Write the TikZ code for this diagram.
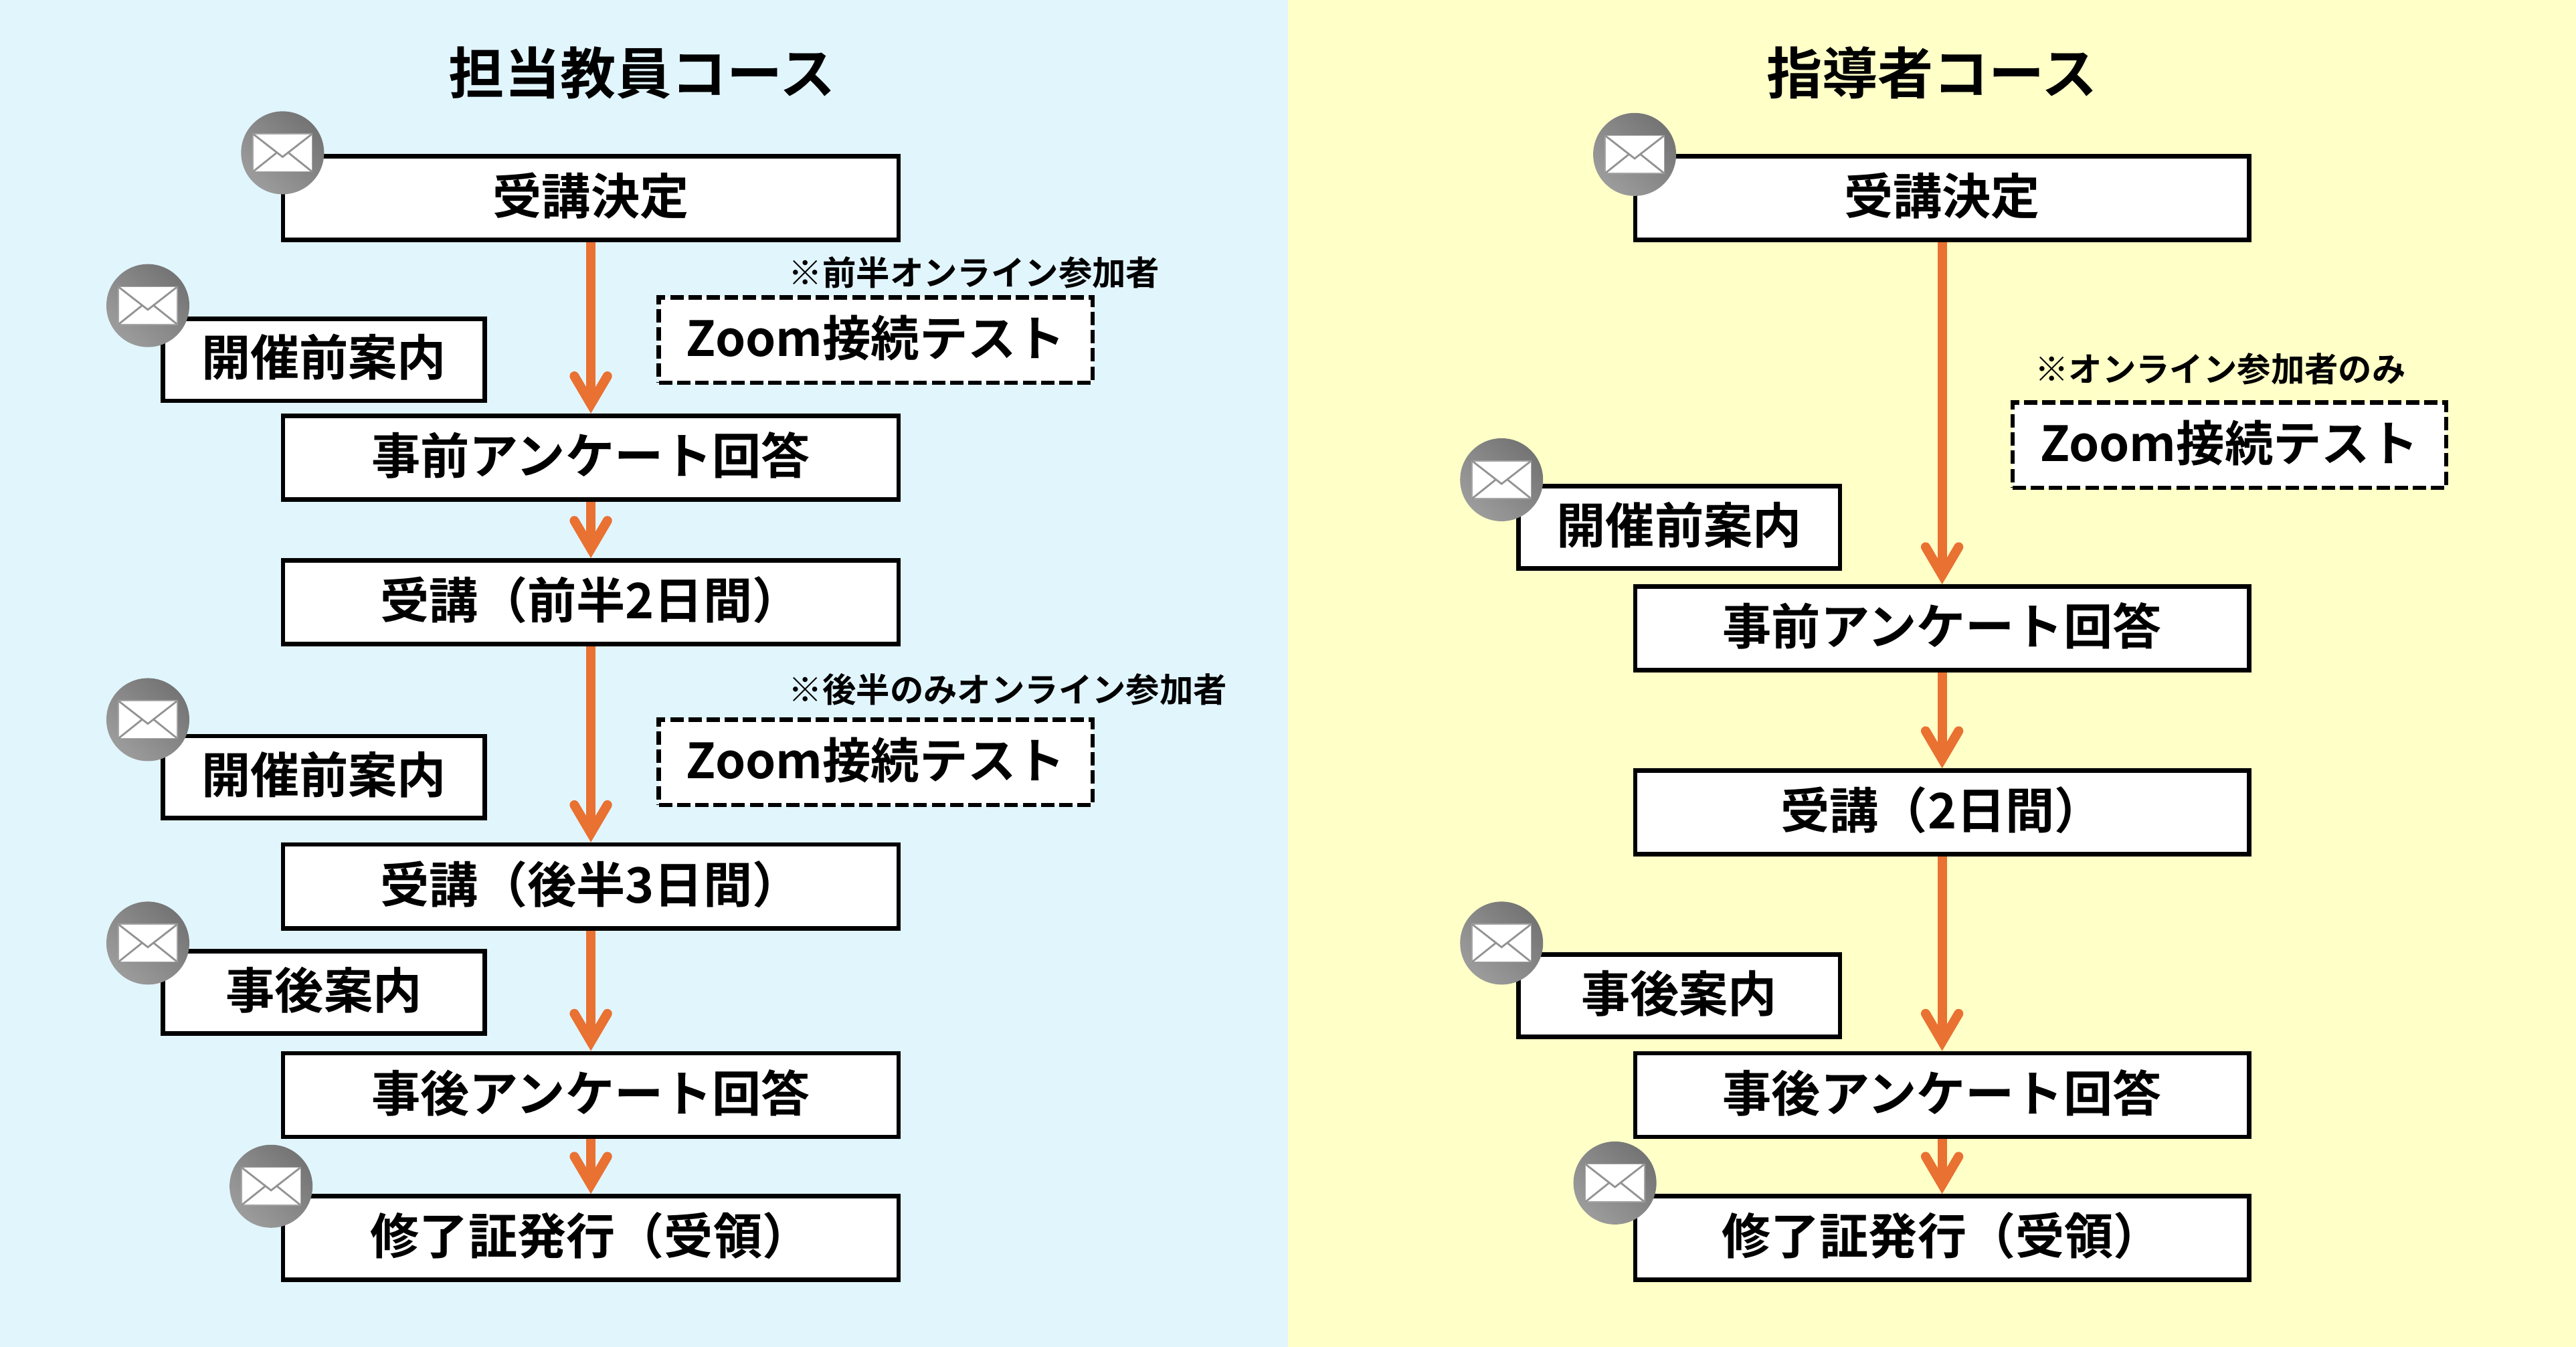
\documentclass[tikz,border=0pt]{standalone}
\usepackage{fontspec}
\setmainfont[BoldFont={Noto Sans CJK JP Bold}]{Noto Sans CJK JP}
\usetikzlibrary{arrows.meta,calc}
\definecolor{lbg}{HTML}{E1F5FD}
\definecolor{rbg}{HTML}{FFFFC8}
\definecolor{org}{HTML}{E97132}
\definecolor{maila}{HTML}{9C9C9C}
\definecolor{mailb}{HTML}{747474}
\tikzset{
 x=1.2277pt,y=-1.2277pt,
 flowbox/.style={draw=black,line width=3.35pt,fill=white,inner sep=0pt,font=\fontsize{36.6}{36}\selectfont\bfseries,text=black},
 testbox/.style={flowbox,line width=3.2pt,dash pattern=on 10pt off 3.6pt,font=\fontsize{36.2}{36}\selectfont\bfseries},
 flow/.style={draw=org,line width=7pt,-{Straight Barb[length=21pt,width=24.7pt,line width=7pt,line cap=round,line join=miter]}},
 title/.style={font=\fontsize{41.6}{41}\selectfont\bfseries,inner sep=0pt},
 note/.style={font=\fontsize{25.2}{25}\selectfont\bfseries,inner sep=0pt,anchor=west},
 mailc/.style={circle,minimum size=62pt,inner sep=0pt,left color=mailb,right color=maila,shading angle=-45},
}
\newcommand{\bx}[7][flowbox]{% style,name,x1,y1,x2,y2,text
 \pgfmathsetmacro\cxx{(#3+#5)/2}\pgfmathsetmacro\cyy{(#4+#6)/2}
 \pgfmathsetlengthmacro\wdd{(#5-#3)*1.2277pt}\pgfmathsetlengthmacro\htt{(#6-#4)*1.2277pt}
 \node[#1,minimum width=\wdd,minimum height=\htt] (#2) at (\cxx,\cyy) {\raisebox{7pt}{#7}};}
\newcommand{\mail}[3]{% name,x,y
 \node[mailc] (#1) at (#2,#3) {};
 \fill[white,draw=gray!70,line width=.8pt] (#2-18,#3-11.5) rectangle (#2+18,#3+11.5);
 \draw[gray!85,line width=1.4pt] (#2-18,#3-11.5) -- (#2,#3+2.5) -- (#2+18,#3-11.5)
   (#2-18,#3+11.5) -- (#2-3,#3-0.5) (#2+18,#3+11.5) -- (#2+3,#3-0.5);}
\begin{document}
\begin{tikzpicture}
\useasboundingbox (0,0) rectangle (1568,819.8);
\fill[lbg] (0,0) rectangle (784,819.8);
\fill[rbg] (784,0) rectangle (1568,819.8);
\node[title] (tl) at (391,44.5) {担当教員コース};
\node[title] (tr) at (1176,44.5) {指導者コース};
% left
\bx{a1}{172.3}{95}{547}{146}{受講決定}
\bx{a2}{172.3}{253}{547}{304}{事前アンケート回答}
\bx{a3}{172.3}{341}{547}{392}{受講（前半2日間）}
\bx{a4}{172.3}{514}{547}{565}{受講（後半3日間）}
\bx{a5}{172.3}{641}{547}{692}{事後アンケート回答}
\bx{a6}{172.3}{728}{547}{779}{修了証発行（受領）}
\bx{s1}{99.3}{194}{295}{244}{開催前案内}
\bx{s2}{99.3}{448}{295}{498}{開催前案内}
\bx{s3}{99.3}{579}{295}{629}{事後案内}
\bx[testbox]{z1}{401}{181}{665}{233}{Zoom接続テスト}
\bx[testbox]{z2}{401}{438}{665}{490}{Zoom接続テスト}
\node[note] (n1) at (480,166) {※前半オンライン参加者};
\node[note] (n2) at (480,419.5) {※後半のみオンライン参加者};
\foreach \p/\q in {a1/a2,a2/a3,a3/a4,a4/a5,a5/a6}{\draw[flow] (\p.south) -- (\q.north);}
\mail{m1}{172}{93}
\mail{m2}{90}{186}
\mail{m3}{90}{438}
\mail{m4}{90}{574}
\mail{m5}{165}{722}
% right
\bx{b1}{995.3}{95}{1369}{146}{受講決定}
\bx{b2}{995.3}{357}{1369}{408}{事前アンケート回答}
\bx{b3}{995.3}{469}{1369}{520}{受講（2日間）}
\bx{b4}{995.3}{641}{1369}{692}{事後アンケート回答}
\bx{b5}{995.3}{728}{1369}{779}{修了証発行（受領）}
\bx{t1}{924.3}{296}{1120}{346}{開催前案内}
\bx{t2}{924.3}{581}{1120}{631}{事後案内}
\bx[testbox]{z3}{1225}{245}{1489}{297}{Zoom接続テスト}
\node[note] (n3) at (1238.5,224.5) {※オンライン参加者のみ};
\foreach \p/\q in {b1/b2,b2/b3,b3/b4,b4/b5}{\draw[flow] (\p.south) -- (\q.north);}
\mail{m6}{995}{94}
\mail{m7}{914}{292}
\mail{m8}{914}{574}
\mail{m9}{983}{720}
\end{tikzpicture}
\end{document}
